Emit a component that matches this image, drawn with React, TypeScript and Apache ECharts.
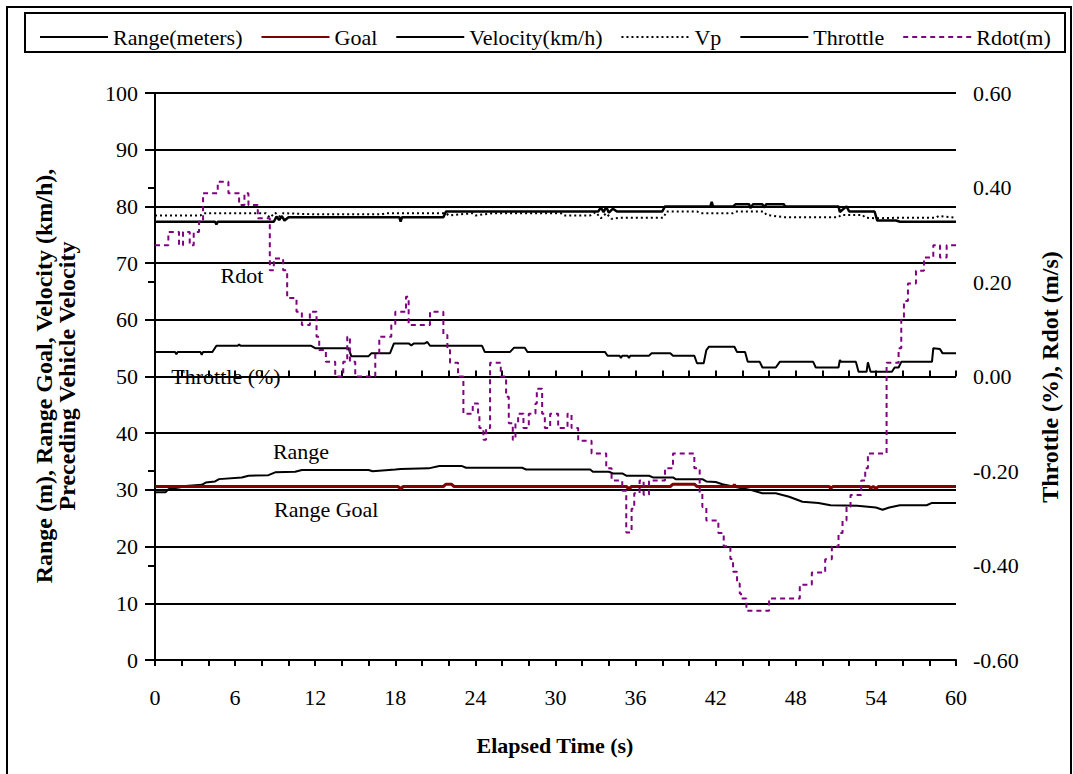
import React, { useEffect, useRef } from "react";
import * as echarts from "echarts";

const FONT = "Liberation Serif, Times New Roman, serif";

const xTicks = { min: 0, max: 60, interval: 2, labelEvery: 6 };
const leftTicks = { min: 0, max: 100, interval: 10 };
const rightTicks = { min: -0.6, max: 0.6, interval: 0.2 };

const seriesNames = ["Range(meters)", "Goal", "Velocity(km/h)", "Vp", "Throttle", "Rdot(m)"];

// Range (m), left axis
const rangeData = [
  [0, 29.6], [0.8, 29.6], [1.0, 30.1], [2.0, 30.5], [2.3, 30.7], [3.5, 30.9], [3.8, 31.3], [4.5, 31.5],
  [4.8, 31.9], [6.5, 32.2], [7.0, 32.5], [8.5, 32.6], [9.0, 33.1], [10.5, 33.2], [11.0, 33.5], [16.0, 33.5],
  [16.3, 33.3], [18.0, 33.6], [18.4, 33.7], [20.5, 33.8], [21.3, 34.2], [23.0, 34.2], [23.3, 33.9],
  [27.5, 33.9], [27.8, 33.6], [32.6, 33.6], [32.8, 33.2], [34.0, 33.2], [34.3, 32.9], [35.0, 32.9],
  [35.3, 32.5], [37.0, 32.5], [37.3, 32.2], [38.8, 32.2], [39.0, 31.9], [41.0, 31.9], [41.3, 31.5],
  [42.0, 31.4], [42.5, 31.0], [43.3, 30.6], [44.6, 30.0], [45.5, 29.4], [46.5, 29.4], [47.5, 28.8],
  [48.5, 27.9], [49.7, 27.7], [50.6, 27.3], [52.6, 27.2], [54.0, 26.9], [54.5, 26.5], [55.0, 26.9],
  [55.8, 27.3], [57.8, 27.3], [58.2, 27.7], [60, 27.7],
];

// Range goal, left axis
const goalData = [
  [0, 30.6], [18.2, 30.6], [18.4, 30.2], [18.6, 30.6], [21.6, 30.6], [21.8, 31.0], [22.2, 31.0],
  [22.4, 30.6], [35.3, 30.6], [35.5, 30.2], [35.7, 30.6], [38.6, 30.6], [38.8, 31.0], [40.4, 31.0],
  [40.6, 30.6], [43.3, 30.6], [43.4, 30.9], [43.5, 30.6], [50.5, 30.6], [50.6, 30.3], [50.8, 30.6],
  [53.5, 30.6], [53.6, 30.3], [53.8, 30.6], [54.0, 30.3], [54.2, 30.6], [60, 30.6],
];

// Velocity (km/h), left axis
const velocityData = [
  [0, 77.3], [4.5, 77.3], [4.6, 76.8], [4.7, 77.3], [8.9, 77.3], [9.1, 78.2], [9.3, 77.6], [9.5, 78.3],
  [9.7, 77.5], [10.0, 78.1], [18.3, 78.1], [18.4, 77.3], [18.5, 78.1], [21.6, 78.1], [21.8, 79.1],
  [33.2, 79.1], [33.4, 79.8], [33.6, 79.0], [33.8, 79.9], [34.0, 78.9], [34.3, 79.6], [34.6, 79.1],
  [38.0, 79.1], [38.2, 80.0], [41.6, 80.0], [41.7, 80.8], [41.8, 80.0], [43.3, 80.0], [43.5, 80.4],
  [44.5, 80.4], [44.6, 79.7], [44.8, 80.4], [45.5, 80.4], [45.6, 79.8], [45.8, 80.4], [47.1, 80.4],
  [47.2, 80.0], [51.2, 80.0], [51.3, 79.0], [51.8, 80.0], [52.0, 79.1], [53.9, 79.1], [54.1, 77.5],
  [55.5, 77.5], [55.8, 77.3], [60, 77.3],
];

// Preceding vehicle velocity, left axis
const vpData = [
  [0, 78.4], [3.4, 78.4], [3.6, 78.8], [8.3, 78.8], [8.6, 78.0], [9.0, 78.9], [9.3, 78.2], [9.6, 78.8],
  [12.0, 78.6], [17.0, 78.6], [17.3, 78.8], [21.8, 78.8], [22.0, 78.4], [23.8, 78.8], [24.0, 78.4],
  [25.3, 78.8], [30.4, 78.8], [30.6, 78.4], [32.6, 78.4], [33.0, 79.0], [33.4, 77.9], [33.8, 78.8],
  [34.2, 77.8], [34.8, 78.0], [38.1, 78.0], [38.3, 79.1], [40.6, 79.1], [40.9, 78.8], [43.3, 78.8],
  [43.5, 79.1], [45.6, 79.1], [45.8, 78.5], [47.1, 78.1], [51.2, 78.1], [51.4, 78.5], [53.0, 78.5],
  [53.2, 78.0], [54.0, 77.9], [55.7, 78.0], [58.5, 78.0], [58.7, 78.3], [60, 78.0],
];

// Throttle (%), right axis
const throttleData = [
  [0, 0.052], [1.5, 0.052], [1.6, 0.047], [1.7, 0.052], [3.4, 0.052], [3.5, 0.046], [3.6, 0.052],
  [4.3, 0.052], [4.6, 0.065], [6.2, 0.065], [6.3, 0.068], [6.4, 0.065], [11.7, 0.065], [12.0, 0.06],
  [14.5, 0.06], [14.7, 0.043], [16.0, 0.043], [16.2, 0.049], [17.6, 0.049], [17.9, 0.07], [19.0, 0.07],
  [19.2, 0.066], [19.4, 0.07], [20.2, 0.07], [20.4, 0.073], [20.6, 0.065], [24.5, 0.065], [24.7, 0.052],
  [26.6, 0.052], [26.9, 0.061], [27.7, 0.061], [27.9, 0.052], [33.7, 0.052], [33.9, 0.044], [34.8, 0.044],
  [34.9, 0.039], [35.0, 0.044], [35.4, 0.044], [35.5, 0.039], [35.6, 0.044], [37.0, 0.044], [37.2, 0.049],
  [38.6, 0.049], [38.8, 0.044], [40.4, 0.044], [40.6, 0.028], [41.1, 0.028], [41.3, 0.056], [41.5, 0.063],
  [43.4, 0.063], [43.6, 0.052], [44.2, 0.052], [44.4, 0.031], [45.3, 0.031], [45.5, 0.019], [46.5, 0.019],
  [46.8, 0.031], [49.3, 0.031], [49.5, 0.019], [51.2, 0.019], [51.3, 0.035], [51.4, 0.031], [52.5, 0.031],
  [52.7, 0.01], [53.3, 0.01], [53.4, 0.03], [53.6, 0.01], [55.2, 0.01], [55.4, 0.019], [55.7, 0.019],
  [55.9, 0.031], [58.2, 0.031], [58.3, 0.06], [58.8, 0.058], [59.0, 0.049], [60, 0.049],
];

// Rdot (m/s), right axis, step values (value holds until next time)
const rdotData = [
  [0, 0.278], [1.0, 0.306], [1.8, 0.278], [2.1, 0.306], [2.6, 0.278], [2.9, 0.306], [3.3, 0.328],
  [3.6, 0.388], [4.7, 0.412], [5.5, 0.388], [6.3, 0.363], [6.7, 0.388], [7.0, 0.363], [7.7, 0.335],
  [8.6, 0.225], [8.9, 0.25], [9.6, 0.225], [9.9, 0.166], [10.6, 0.137], [11.0, 0.109], [11.6, 0.137],
  [12.1, 0.084], [12.3, 0.056], [12.8, 0.031], [13.5, 0.0], [14.1, 0.031], [14.4, 0.084], [14.6, 0.031],
  [15.0, 0.0], [16.5, 0.05], [16.8, 0.084], [17.7, 0.109], [18.0, 0.137], [18.8, 0.169], [19.0, 0.109],
  [20.6, 0.137], [21.6, 0.088], [21.9, 0.056], [22.1, 0.029], [22.7, 0.0], [23.1, -0.079], [23.8, -0.057],
  [24.2, -0.079], [24.3, -0.109], [24.6, -0.134], [24.8, -0.109], [25.1, 0.029], [25.9, 0.0],
  [26.3, -0.043], [26.5, -0.099], [26.8, -0.134], [27.0, -0.099], [27.2, -0.079], [27.6, -0.109],
  [28.0, -0.079], [28.5, -0.057], [28.6, -0.026], [29.0, -0.079], [29.2, -0.109], [29.6, -0.079],
  [30.2, -0.109], [30.9, -0.079], [31.2, -0.109], [31.7, -0.136], [32.7, -0.163], [33.8, -0.194],
  [34.2, -0.22], [35.0, -0.242], [35.3, -0.33], [35.7, -0.28], [35.9, -0.247], [36.3, -0.22],
  [36.6, -0.25], [37.0, -0.22], [38.2, -0.194], [38.8, -0.163], [40.4, -0.194], [40.8, -0.247],
  [41.0, -0.276], [41.3, -0.305], [42.2, -0.331], [42.6, -0.359], [43.1, -0.386], [43.3, -0.413],
  [43.6, -0.438], [43.8, -0.459], [43.9, -0.47], [44.3, -0.496], [46.0, -0.47], [48.3, -0.441],
  [49.2, -0.415], [50.2, -0.387], [50.7, -0.36], [51.2, -0.331], [51.5, -0.305], [51.8, -0.276],
  [52.1, -0.251], [52.9, -0.22], [53.2, -0.194], [53.4, -0.163], [54.8, 0.029], [55.7, 0.06],
  [55.9, 0.12], [56.1, 0.16], [56.4, 0.197], [57.0, 0.224], [57.6, 0.252], [58.3, 0.278], [58.8, 0.252],
  [59.3, 0.278], [60, 0.278],
];

const annotations = [
  { text: "Rdot", x: 242, y: 275, align: "center" },
  { text: "Throttle (%)", x: 226, y: 376, align: "center" },
  { text: "Range", x: 301, y: 451, align: "center" },
  { text: "Range Goal", x: 274, y: 509, align: "left" },
];

export default function App() {
  const ref = useRef<HTMLDivElement>(null);

  useEffect(() => {
    if (!ref.current) return;
    const chart = echarts.init(ref.current, null, { renderer: "svg" });
    const axisLine = { show: true, lineStyle: { color: "#000", width: 2 } };
    const labelStyle = { color: "#000", fontFamily: FONT, fontSize: 22 };

    const option: any = {
      animation: false,
      backgroundColor: "#fff",
      grid: { left: 155, right: 117, top: 93, bottom: 114, containLabel: false },
      legend: {
        data: seriesNames,
        left: 34,
        top: 21,
        itemWidth: 68,
        itemHeight: 14,
        itemGap: 18,
        itemStyle: { opacity: 0 },
        textStyle: { color: "#000", fontFamily: FONT, fontSize: 22 },
        selectedMode: false,
      },
      xAxis: [
        {
          type: "value",
          min: xTicks.min,
          max: xTicks.max,
          interval: xTicks.interval,
          position: "bottom",
          axisLine,
          axisTick: { show: true, inside: false, length: 6, lineStyle: { color: "#000", width: 2 } },
          axisLabel: {
            ...labelStyle,
            margin: 26,
            formatter: (v: number) => (Math.round(v) % xTicks.labelEvery === 0 ? String(Math.round(v)) : ""),
          },
          splitLine: { show: false },
        },
        {
          type: "value",
          min: xTicks.min,
          max: xTicks.max,
          interval: xTicks.interval,
          position: "bottom",
          axisLine: { show: false },
          axisTick: { show: true, inside: true, length: 6, lineStyle: { color: "#000", width: 2 } },
          axisLabel: { show: false },
          splitLine: { show: false },
        },
      ],
      yAxis: [
        {
          type: "value",
          min: leftTicks.min,
          max: leftTicks.max,
          interval: leftTicks.interval,
          position: "left",
          axisLine,
          axisTick: { show: true, inside: false, length: 10, lineStyle: { color: "#000", width: 2 } },
          axisLabel: { ...labelStyle, margin: 17 },
          splitLine: { show: true, lineStyle: { color: "#000", width: 2 } },
        },
        {
          type: "value",
          min: rightTicks.min,
          max: rightTicks.max,
          interval: rightTicks.interval,
          position: "right",
          axisLine,
          axisTick: { show: true, inside: true, length: 7, lineStyle: { color: "#000", width: 2 } },
          axisLabel: {
            ...labelStyle,
            margin: 17,
            formatter: (v: number) => (Math.abs(v) < 1e-9 ? "0.00" : v.toFixed(2)),
          },
          splitLine: { show: false },
        },
      ],
      series: [
        {
          name: seriesNames[0], type: "line", xAxisIndex: 0, yAxisIndex: 0, data: rangeData,
          showSymbol: false, symbol: "none", lineStyle: { color: "#000", width: 2 }, itemStyle: { color: "#000" }, z: 3,
        },
        {
          name: seriesNames[1], type: "line", xAxisIndex: 0, yAxisIndex: 0, data: goalData,
          showSymbol: false, symbol: "none", lineStyle: { color: "#800000", width: 3 }, itemStyle: { color: "#800000" }, z: 4,
        },
        {
          name: seriesNames[2], type: "line", xAxisIndex: 0, yAxisIndex: 0, data: velocityData,
          showSymbol: false, symbol: "none", lineStyle: { color: "#000", width: 2.5 }, itemStyle: { color: "#000" }, z: 3,
        },
        {
          name: seriesNames[3], type: "line", xAxisIndex: 0, yAxisIndex: 0, data: vpData,
          showSymbol: false, symbol: "none", lineStyle: { color: "#000", width: 2, type: [2, 3] }, itemStyle: { color: "#000" }, z: 3,
        },
        {
          name: seriesNames[4], type: "line", xAxisIndex: 0, yAxisIndex: 1, data: throttleData,
          showSymbol: false, symbol: "none", lineStyle: { color: "#000", width: 2 }, itemStyle: { color: "#000" }, z: 3,
        },
        {
          name: seriesNames[5], type: "line", xAxisIndex: 0, yAxisIndex: 1, data: rdotData, step: "end",
          showSymbol: false, symbol: "none", lineStyle: { color: "#800080", width: 2, type: [5, 4] }, itemStyle: { color: "#800080" }, z: 5,
        },
      ],
      graphic: [
        { type: "rect", shape: { x: 7, y: 7, width: 1064, height: 800 }, style: { fill: "none", stroke: "#000", lineWidth: 2 }, silent: true, z: 0 },
        { type: "rect", shape: { x: 25, y: 13, width: 1040, height: 39 }, style: { fill: "none", stroke: "#000", lineWidth: 2 }, silent: true, z: 0 },
        {
          type: "text", x: 44, y: 376, rotation: Math.PI / 2,
          style: { text: "Range (m), Range Goal, Velocity (km/h),", fill: "#000", font: `bold 24px ${FONT}`, align: "center", verticalAlign: "middle" },
        },
        {
          type: "text", x: 67, y: 376, rotation: Math.PI / 2,
          style: { text: "Preceding Vehicle Velocity", fill: "#000", font: `bold 24px ${FONT}`, align: "center", verticalAlign: "middle" },
        },
        {
          type: "text", x: 1050, y: 377, rotation: Math.PI / 2,
          style: { text: "Throttle (%), Rdot (m/s)", fill: "#000", font: `bold 24px ${FONT}`, align: "center", verticalAlign: "middle" },
        },
        {
          type: "text", x: 555, y: 745,
          style: { text: "Elapsed Time (s)", fill: "#000", font: `bold 22px ${FONT}`, align: "center", verticalAlign: "middle" },
        },
        ...annotations.map((a) => ({
          type: "text", x: a.x, y: a.y,
          style: { text: a.text, fill: "#000", font: `22px ${FONT}`, align: a.align, verticalAlign: "middle" },
        })),
      ],
    };
    chart.setOption(option);
    return () => chart.dispose();
  }, []);

  return (
    <div
      ref={ref}
      style={{ position: "absolute", left: 0, top: 0, width: 1073, height: 774, background: "#fff" }}
    />
  );
}
